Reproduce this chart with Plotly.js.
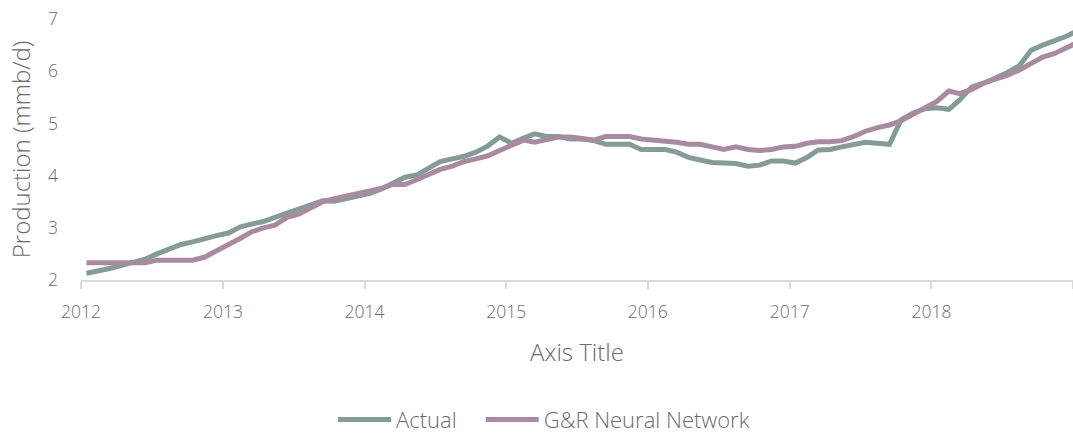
<!DOCTYPE html>
<html><head><meta charset="utf-8">
<script src="https://cdn.plot.ly/plotly-3.0.1.min.js"></script>
<style>html,body{margin:0;padding:0;background:#fff}#chart{width:1073px;height:433px}</style>
</head><body><div id="chart"></div>
<script>
const months = [
'2012-01-15','2012-02-15','2012-03-15','2012-04-15','2012-05-15','2012-06-15','2012-07-15','2012-08-15','2012-09-15','2012-10-15','2012-11-15','2012-12-15',
'2013-01-15','2013-02-15','2013-03-15','2013-04-15','2013-05-15','2013-06-15','2013-07-15','2013-08-15','2013-09-15','2013-10-15','2013-11-15','2013-12-15',
'2014-01-15','2014-02-15','2014-03-15','2014-04-15','2014-05-15','2014-06-15','2014-07-15','2014-08-15','2014-09-15','2014-10-15','2014-11-15','2014-12-15',
'2015-01-15','2015-02-15','2015-03-15','2015-04-15','2015-05-15','2015-06-15','2015-07-15','2015-08-15','2015-09-15','2015-10-15','2015-11-15','2015-12-15',
'2016-01-15','2016-02-15','2016-03-15','2016-04-15','2016-05-15','2016-06-15','2016-07-15','2016-08-15','2016-09-15','2016-10-15','2016-11-15','2016-12-15',
'2017-01-15','2017-02-15','2017-03-15','2017-04-15','2017-05-15','2017-06-15','2017-07-15','2017-08-15','2017-09-15','2017-10-15','2017-11-15','2017-12-15',
'2018-01-15','2018-02-15','2018-03-15','2018-04-15','2018-05-15','2018-06-15','2018-07-15','2018-08-15','2018-09-15','2018-10-15','2018-11-15','2018-12-15',
'2019-01-15'
];
const actual = [
2.13,2.17,2.22,2.28,2.33,2.40,2.50,2.58,2.68,2.73,2.80,2.85,
2.90,3.02,3.07,3.12,3.20,3.28,3.36,3.42,3.52,3.51,3.56,3.60,
3.66,3.75,3.86,3.97,4.01,4.15,4.27,4.32,4.37,4.45,4.57,4.74,
4.62,4.72,4.80,4.75,4.75,4.70,4.70,4.67,4.60,4.60,4.60,4.50,
4.50,4.50,4.45,4.35,4.30,4.25,4.24,4.23,4.18,4.20,4.28,4.28,
4.24,4.35,4.49,4.50,4.55,4.60,4.64,4.62,4.60,5.07,5.20,5.28,
5.30,5.27,5.45,5.70,5.77,5.87,5.97,6.10,6.40,6.50,6.58,6.67,
6.78
];
const neural = [
2.33,2.33,2.33,2.33,2.33,2.33,2.38,2.38,2.38,2.38,2.44,2.55,
2.67,2.80,2.92,3.00,3.05,3.20,3.26,3.38,3.50,3.56,3.61,3.66,
3.70,3.76,3.83,3.83,3.92,4.02,4.12,4.18,4.27,4.32,4.38,4.48,
4.58,4.68,4.64,4.70,4.74,4.74,4.72,4.68,4.75,4.75,4.75,4.70,
4.68,4.68,4.64,4.60,4.60,4.55,4.50,4.55,4.50,4.48,4.50,4.55,
4.56,4.62,4.65,4.65,4.67,4.75,4.85,4.92,4.97,5.05,5.18,5.30,
5.42,5.62,5.57,5.65,5.77,5.85,5.92,6.02,6.15,6.27,6.34,6.45,
6.56
];
const seriesNames = ['Actual', 'G&R Neural Network'];
const seriesColors = ['#849b96', '#a98ba0'];
const legendIds = ['legend', 'legend2'];

const FONT = '"Open Sans", Lato, "DejaVu Sans", sans-serif';
const TXT = '#6b6b6b';

const traces = [actual, neural].map((vals, i) => ({
  type: 'scatter', mode: 'lines', x: months, y: vals, name: seriesNames[i],
  legend: legendIds[i],
  line: {color: seriesColors[i], width: 5, shape: 'linear'},
  hoverinfo: 'x+y+name'
}));

const legendBase = {
  orientation: 'h', xanchor: 'left', y: -0.535, yanchor: 'middle',
  font: {family: FONT, size: 22, color: TXT, weight: 300},
  itemwidth: 53, bgcolor: 'rgba(0,0,0,0)'
};

const layout = {
  width: 1073, height: 433,
  margin: {l: 81, r: 0, t: 19, b: 153, autoexpand: false},
  paper_bgcolor: '#ffffff', plot_bgcolor: '#ffffff',
  font: {family: FONT, color: TXT, size: 18, weight: 300},
  xaxis: {
    type: 'date', range: ['2012-01-01', '2019-01-01'],
    tick0: '2012-01-01', dtick: 'M12', tickformat: '%Y',
    showgrid: false, zeroline: false,
    showline: true, linecolor: '#d9d9d9', linewidth: 1.5,
    ticks: 'outside', ticklen: 7, tickcolor: '#d9d9d9', tickwidth: 1.5,
    tickfont: {family: FONT, size: 17.5, color: TXT, weight: 300},
    ticklabelstandoff: 8,
    title: {text: 'Axis Title', font: {family: FONT, size: 24, color: TXT, weight: 300}, standoff: 22}
  },
  yaxis: {
    range: [2, 7], dtick: 1, tick0: 2,
    showgrid: false, zeroline: false, showline: false,
    ticks: '',
    tickfont: {family: FONT, size: 17.5, color: TXT, weight: 300},
    ticklabelstandoff: 22,
    title: {text: 'Production (mmb/d)', font: {family: FONT, size: 24, color: TXT, weight: 300}, standoff: 10}
  },
  showlegend: true,
  legend: Object.assign({}, legendBase, {x: 0.254}),
  legend2: Object.assign({}, legendBase, {x: 0.403})
};

Plotly.newPlot('chart', traces, layout, {displayModeBar: false, responsive: false});
</script>
</body></html>
